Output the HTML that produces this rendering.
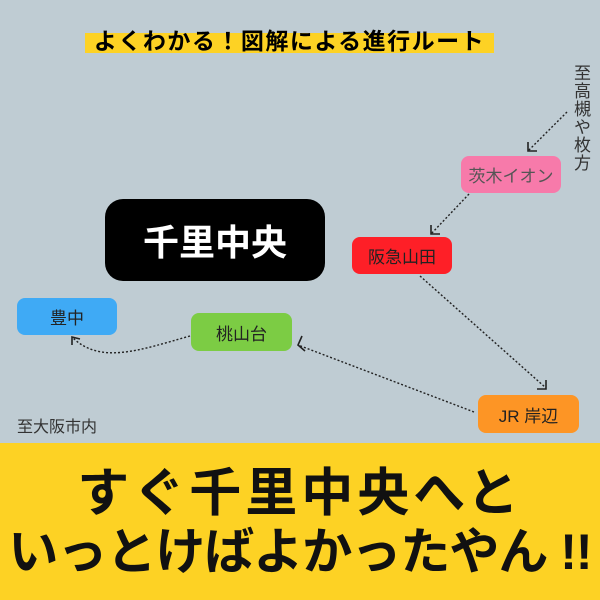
<!DOCTYPE html>
<html><head><meta charset="utf-8"><style>
body{margin:0;width:600px;height:600px;overflow:hidden;background:#bfccd3;font-family:"Liberation Sans","Noto Sans CJK JP",sans-serif;position:relative}
.n{position:absolute;display:flex;align-items:center;justify-content:center;border-radius:8px;font-size:17px;color:#222}
.t{position:absolute}
</style></head><body>
<div class="t" style="left:85px;top:33px;width:409px;height:20px;background:#fdd224"></div>
<div class="t" style="left:85px;top:27px;width:409px;text-align:center;font-size:23px;font-weight:bold;color:#000;line-height:28px;letter-spacing:1.5px">よくわかる！図解による進行ルート</div>
<div class="n" style="left:105px;top:199px;width:220px;height:82px;background:#000;border-radius:18px;color:#fff;font-size:36px;font-weight:bold">千里中央</div>
<div class="n" style="left:461px;top:156px;width:100px;height:37px;background:#f77aaa;color:#555">茨木イオン</div>
<div class="n" style="left:352px;top:237px;width:100px;height:37px;background:#fe1f27">阪急山田</div>
<div class="n" style="left:17px;top:298px;width:100px;height:37px;background:#3faaf5">豊中</div>
<div class="n" style="left:191px;top:313px;width:101px;height:38px;background:#7ccc44">桃山台</div>
<div class="n" style="left:478px;top:395px;width:101px;height:38px;background:#fd9525">JR 岸辺</div>
<div class="t" style="left:17px;top:413px;font-size:16px;color:#333">至大阪市内</div>
<div class="t" style="left:570px;top:64px;font-size:17px;color:#333;writing-mode:vertical-rl;line-height:20px;letter-spacing:1px">至高槻や枚方</div>
<svg class="t" style="left:0;top:0" width="600" height="600">
<g fill="none" stroke="#222" stroke-width="1.4" stroke-dasharray="2,2">
<path d="M567 112 L528 151"/><path d="M469 194 L431 234"/><path d="M420 276 L546 388"/><path d="M474 412 L298 345"/><path d="M190 336 C140 350 100 365 72 337"/>
</g>
<g fill="none" stroke="#222" stroke-width="1.6">
<path d="M528 142 L528 151 L537 151"/><path d="M431 225 L431 234 L440 234"/><path d="M537 389 L546 389 L546 380"/><path d="M302 336 L298 345 L305 351"/><path d="M72 345 L72 337 L80 339"/>
</g>
</svg>
<div class="t" style="left:0;top:443px;width:600px;height:157px;background:#fdd224"></div>
<div class="t" style="left:0;top:464px;width:600px;text-align:center;font-size:52px;font-weight:bold;color:#111;line-height:60px;letter-spacing:4px">すぐ千里中央へと</div>
<div class="t" style="left:0;top:522px;width:600px;text-align:center;font-size:50px;font-weight:bold;color:#111;line-height:60px;letter-spacing:-1px">いっとけばよかったやん !!</div>
</body></html>
